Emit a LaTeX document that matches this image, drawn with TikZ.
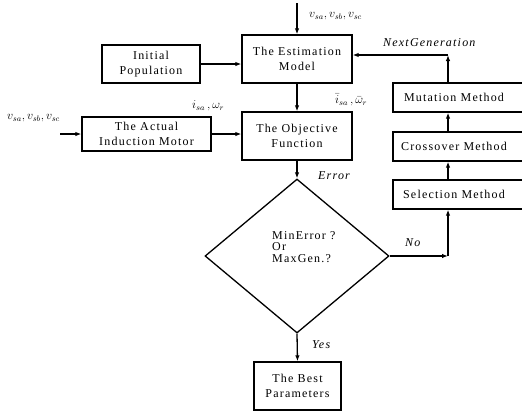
\documentclass[tikz,border=0pt]{standalone}
\usepackage{fontspec}
\setmainfont{Liberation Serif}[LetterSpace=10]
\usetikzlibrary{arrows.meta,shapes.geometric}
\begin{document}
\begin{tikzpicture}[x=1pt,y=-1pt,
  font=\fontsize{12}{15}\selectfont,
  box/.style={draw, line width=1.3pt, rectangle, inner sep=0pt, align=center},
  dmd/.style={draw, line width=1.3pt, diamond, inner sep=0pt},
  arr/.style={line width=1.3pt, -{Latex[length=6pt,width=4.5pt]}},
  ln/.style={line width=1.3pt},
  lbl/.style={inner sep=0pt, anchor=west},
  itl/.style={lbl, font=\fontsize{12}{15}\selectfont\itshape}]
\useasboundingbox (0,0) rectangle (522,413);

\node[box, minimum width=110pt, minimum height=48pt] (est) at (297,59) {The Estimation\\Model};
\node[box, minimum width=98pt, minimum height=38pt] (init) at (151,64) {Initial\\Population};
\node[box, minimum width=110pt, minimum height=48pt] (obj) at (297,136) {The Objective\\Function};
\node[box, minimum width=129pt, minimum height=34pt] (mot) at (146.5,134) {The Actual\\Induction Motor};
\node[box, minimum width=134pt, minimum height=29pt] (mut) at (460,97.5) {\hspace*{-12pt}Mutation Method};
\node[box, minimum width=134pt, minimum height=29pt] (cro) at (460,146.5) {\hspace*{-12pt}Crossover Method};
\node[box, minimum width=134pt, minimum height=29pt] (sel) at (460,194.5) {\hspace*{-12pt}Selection Method};
\node[dmd, minimum width=184pt, minimum height=154pt] (dia) at (297,256) {};
\node[lbl, align=left, font=\fontsize{12}{11.5}\selectfont] (dtx) at (272,247) {MinError ?\\Or\\MaxGen.?};
\node[box, minimum width=87pt, minimum height=48pt] (best) at (297.5,386) {The Best\\Parameters};

\coordinate (top) at (297,3);
\coordinate (left) at (60,134);
\coordinate (cno) at (448,256);
\coordinate (cng) at (448,55);

\draw[arr] (top) -- (est.north);
\draw[arr] (left) -- (mot.west);
\draw[arr] (init.east) -- (init.east -| est.west);
\draw[arr] (mot.east) -- (mot.east -| obj.west);
\draw[arr] (est.south) -- (obj.north);
\draw[arr] (obj.south) -- (dia.north);
\draw[arr] (dia.south) -- (best.north);
\draw[arr] (dia.east) -- (cno);
\draw[arr] (cno) -- (cno |- sel.south);
\draw[arr] (cno |- sel.north) -- (cno |- cro.south);
\draw[arr] (cno |- cro.north) -- (cno |- mut.south);
\draw[arr] (cno |- mut.north) -- (cng);
\draw[arr] (cng) -- (cng -| est.east);

\node[lbl] (lv1) at (309,16) {$v_{sa},v_{sb},v_{sc}$};
\node[lbl] (lv2) at (7,118) {$v_{sa},v_{sb},v_{sc}$};
\node[lbl] (li1) at (192,106) {$i_{sa}\,,\omega_r$};
\node[lbl] (li2) at (335,100) {$\bar{i}_{sa}\,,\bar{\omega}_r$};
\node[itl] (lng) at (383,43) {NextGeneration};
\node[itl] (lerr) at (318,176) {Error};
\node[itl] (lno) at (405,243) {No};
\node[itl] (lyes) at (312,345) {Yes};
\end{tikzpicture}
\end{document}
